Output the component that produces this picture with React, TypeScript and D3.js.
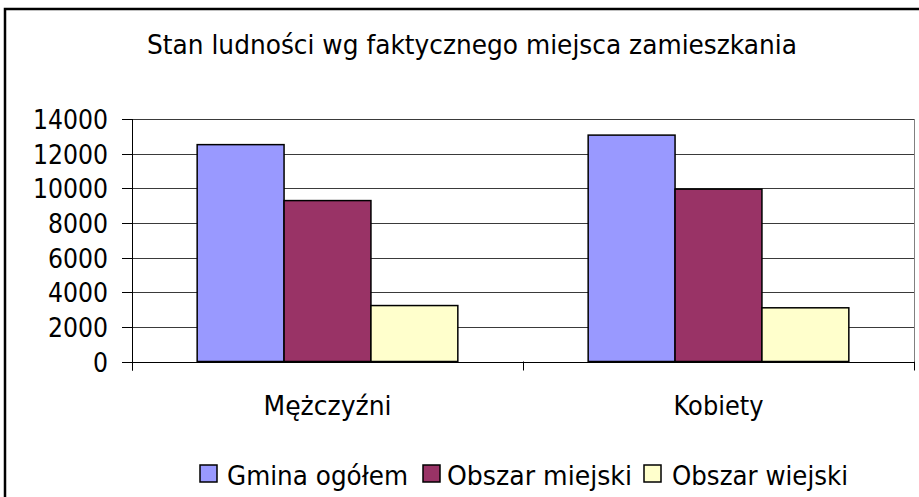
import React from "react";
import * as d3 from "d3";

const title = "Stan ludności wg faktycznego miejsca zamieszkania";
const categories = ["Mężczyźni", "Kobiety"];
const seriesNames = ["Gmina ogółem", "Obszar miejski", "Obszar wiejski"];
const gminaOgolem = [12520, 13070];
const obszarMiejski = [9290, 9950];
const obszarWiejski = [3230, 3100];
const yTicks = [0, 2000, 4000, 6000, 8000, 10000, 12000, 14000];
const colors = ["#9999FF", "#993366", "#FFFFCC"];

const W = 919;
const H = 497;
const FONT = "'DejaVu Sans', Verdana, sans-serif";

export default function App() {
  const series = [gminaOgolem, obszarMiejski, obszarWiejski];
  const left = 132, right = 914, top = 119, bottom = 361.5;
  const x0 = d3.scaleBand<string>().domain(categories).range([left, right]).paddingInner(0);
  const bw = x0.bandwidth();
  const groupW = (bw * 3) / 4.5; // gap width 150%
  const x1 = d3.scaleBand<string>().domain(seriesNames).range([0, groupW]).padding(0);
  const y = d3.scaleLinear().domain([0, 14000]).range([bottom, top]);

  const legendItems = [
    { sx: 200, tx: 227, tw: 181 },
    { sx: 423, tx: 447, tw: 185 },
    { sx: 644, tx: 672, tw: 176 },
  ];
  const labelWidths = [128, 90];

  return (
    <svg width={W} height={H} style={{ position: "absolute", left: 0, top: 0, background: "#fff" }} fontFamily={FONT}>
      <rect x={0} y={0} width={W} height={H} fill="#fff" />
      <rect x={5} y={9} width={940} height={520} fill="#fff" stroke="#000" strokeWidth={2.5} />
      <text x={472} y={54} textAnchor="middle" fontSize={27} textLength={650} lengthAdjust="spacingAndGlyphs" fill="#000">{title}</text>

      {/* gridlines */}
      {yTicks.map((t) => (
        <line key={"g" + t} x1={left} x2={right} y1={Math.round(y(t)) + 0.5} y2={Math.round(y(t)) + 0.5} stroke="#3a3a3a" strokeWidth={1} />
      ))}
      <line x1={right + 0.5} x2={right + 0.5} y1={top} y2={bottom} stroke="#808080" strokeWidth={1} />

      {/* bars */}
      {categories.map((c, ci) => (
        <g key={c} transform={`translate(${(x0(c) as number) + (bw - groupW) / 2},0)`}>
          {seriesNames.map((s, si) => (
            <rect key={s} x={x1(s)} y={y(series[si][ci])} width={x1.bandwidth()} height={bottom - y(series[si][ci])} fill={colors[si]} stroke="#000" strokeWidth={1.5} />
          ))}
        </g>
      ))}

      {/* axes */}
      <line x1={left + 0.5} x2={left + 0.5} y1={top} y2={bottom + 9} stroke="#000" strokeWidth={1} />
      <line x1={left} x2={right + 1} y1={Math.round(bottom) + 0.5} y2={Math.round(bottom) + 0.5} stroke="#000" strokeWidth={1} />
      {yTicks.map((t) => (
        <g key={"t" + t}>
          <line x1={left - 10} x2={left} y1={Math.round(y(t)) + 0.5} y2={Math.round(y(t)) + 0.5} stroke="#000" strokeWidth={1} />
          <text x={108} y={y(t) + 10} textAnchor="end" fontSize={27} textLength={d3.format("d")(t).length * 15} lengthAdjust="spacingAndGlyphs" fill="#000">{d3.format("d")(t)}</text>
        </g>
      ))}
      {[left, left + bw, right].map((xv, i) => (
        <line key={"ct" + i} x1={Math.round(xv) + 0.5} x2={Math.round(xv) + 0.5} y1={bottom} y2={bottom + 9} stroke="#000" strokeWidth={1} />
      ))}
      {categories.map((c, ci) => (
        <text key={"cl" + c} x={(x0(c) as number) + bw / 2} y={415} textAnchor="middle" fontSize={27} textLength={labelWidths[ci]} lengthAdjust="spacingAndGlyphs" fill="#000">{c}</text>
      ))}

      {/* legend */}
      {seriesNames.map((s, si) => (
        <g key={"l" + s}>
          <rect x={legendItems[si].sx} y={465} width={17} height={17} fill={colors[si]} stroke="#000" strokeWidth={1.5} />
          <text x={legendItems[si].tx} y={485} fontSize={27} textLength={legendItems[si].tw} lengthAdjust="spacingAndGlyphs" fill="#000">{s}</text>
        </g>
      ))}
    </svg>
  );
}
